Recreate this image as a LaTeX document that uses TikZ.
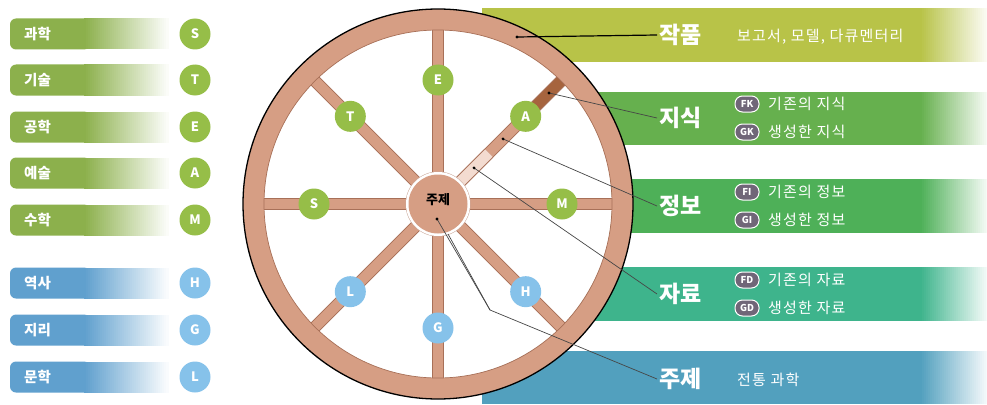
\documentclass[tikz,border=0pt]{standalone}
\usepackage{fontspec}
\setmainfont{Noto Sans CJK KR}
\usetikzlibrary{calc}

\definecolor{wheeltan}{RGB}{214,158,132}
\definecolor{wheeledge}{RGB}{168,112,88}
\definecolor{spokelight}{RGB}{243,219,208}
\definecolor{spokedark}{RGB}{166,100,62}
\definecolor{dotgreen}{RGB}{150,190,72}
\definecolor{dotblue}{RGB}{134,194,234}
\definecolor{pillgreen}{RGB}{140,176,76}
\definecolor{pillblue}{RGB}{96,160,206}
\definecolor{barwork}{RGB}{184,195,72}
\definecolor{barknow}{RGB}{102,176,78}
\definecolor{barinfo}{RGB}{78,176,88}
\definecolor{bardata}{RGB}{62,180,140}
\definecolor{bartopic}{RGB}{82,160,190}
\definecolor{badgegray}{RGB}{112,102,120}
\definecolor{leader}{RGB}{70,70,70}
\definecolor{pin}{RGB}{120,55,45}

\tikzset{
  letterdot/.style={circle, minimum size=31pt, inner sep=0pt, text=white, font=\bfseries\fontsize{13}{13}\selectfont},
  pilltext/.style={anchor=west, inner sep=0pt, text=white, font=\bfseries\fontsize{14.5}{15}\selectfont},
  spoke/.style={draw=wheeledge, line width=0.8pt, double=wheeltan, double distance=10.5pt},
  bigword/.style={anchor=west, inner sep=2pt, text=white, font=\bfseries\fontsize{23}{23}\selectfont},
  subword/.style={anchor=west, inner sep=0pt, text=white, font=\fontsize{15}{15}\selectfont\addfontfeatures{LetterSpace=8}},
  badge/.style={fill=badgegray, draw=white, line width=1pt, rounded corners=7.5pt, minimum width=24pt, minimum height=16pt, inner sep=0pt, text=white, font=\bfseries\fontsize{9.5}{9.5}\selectfont},
  leaderline/.style={draw=leader, line width=0.7pt},
}

\begin{document}
\begin{tikzpicture}[x=1pt,y=1pt,yscale=-1,xscale=1]
\useasboundingbox (0,0) rectangle (987,404);

%Left legend pills with letter keys
\foreach \y/\word/\ltr/\kind in {34/과학/S/green, 80/기술/T/green, 127/공학/E/green, 173/예술/A/green, 220/수학/M/green, 283/역사/H/blue, 330/지리/G/blue, 377/문학/L/blue}
{
  \fill[pill\kind, rounded corners=6pt] (10,\y-15.5) rectangle (90,\y+15.5);
  % fade to white in thin strips
  \foreach \k in {0,...,41}
  {
    \pgfmathsetmacro\t{100-2.35*\k}
    \fill[pill\kind!\t!white] (84+2*\k,\y-15.5) rectangle (86.6+2*\k,\y+15.5);
  }
  \node[pilltext] (pill-\ltr) at (24,\y) {\word};
  \node[letterdot, fill=dot\kind] (key-\ltr) at (195,\y) {\ltr};
}

%Right bars (behind the wheel)
\foreach \top/\bot/\col in {8/62/barwork, 92/145/barknow, 179/233/barinfo, 267/321/bardata, 351/404/bartopic}
{
  \fill[\col] (482,\top) rectangle (922,\bot);
  \foreach \k in {0,...,33}
  {
    \pgfmathsetmacro\t{100-2.85*\k}
    \fill[\col!\t!white] (920+2*\k,\top) rectangle (922.6+2*\k,\bot);
  }
}

%Wheel
\coordinate (c) at (438,204);
\fill[white] (c) circle (174);
\foreach \ang in {0,45,...,315}
  \draw[spoke] ($(c)+(\ang:26)$) -- ($(c)+(\ang:176)$);
% spoke towards A in three tones
\draw[spoke, double=spokelight] ($(c)+(-45:26)$) -- ($(c)+(-45:72)$);
\draw[spoke, double=spokedark] ($(c)+(-45:138)$) -- ($(c)+(-45:176)$);
% rim
\fill[wheeltan, even odd rule] (c) circle (195) (c) circle (174);
\draw[wheeledge, line width=0.7pt] (c) circle (174);
\draw[black, line width=1.3pt] (c) circle (195);
% hub
\fill[wheeledge!60] (c) circle (32.5);
\fill[white] (c) circle (32);
\fill[wheeltan] (c) circle (29.5);
\node[inner sep=0pt, font=\bfseries\fontsize{13}{13}\selectfont] (hub) at ($(c)+(0,-4)$) {주제};

\foreach \ang/\ltr/\kind in {-90/E/green, -45/A/green, 0/M/green, 45/H/blue, 90/G/blue, 135/L/blue, 180/S/green, -135/T/green}
  \node[letterdot, fill=dot\kind] (spk-\ltr) at ($(c)+(\ang:124)$) {\ltr};

%Labels on the bars
\node[bigword] (lbl-work)  at (657,35)  {작품};
\node[bigword] (lbl-know)  at (657,118) {지식};
\node[bigword] (lbl-info)  at (657,206) {정보};
\node[bigword] (lbl-data)  at (657,294) {자료};
\node[bigword] (lbl-topic) at (657,379) {주제};

\node[subword] (sub-work)  at (737,37)  {보고서, 모델, 다큐멘터리};
\node[subword] (sub-topic) at (737,380) {전통 과학};

\foreach \y/\tag/\txt [count=\i] in {104/FK/기존의 지식, 132/GK/생성한 지식, 192/FI/기존의 정보, 220/GI/생성한 정보, 280/FD/기존의 자료, 308/GD/생성한 자료}
{
  \node[badge] (badge-\i) at (747,\y) {\tag};
  \node[subword] (row-\i) at (768,\y) {\txt};
}

%Leader lines from the wheel to the labels
\coordinate (pin-work)  at (517,37);
\coordinate (pin-know)  at ($(c)+(-45:157)$);
\coordinate (pin-info)  at ($(c)+(-45:92)$);
\coordinate (pin-data)  at ($(c)+(-45:51)$);
\coordinate (pin-topic) at (437,219);
\coordinate (pin-rim)   at (448,234);
\coordinate (bend)      at (490,310);

\draw[black, line width=1.2pt] (pin-work) -- (lbl-work.west);
\draw[leaderline] (pin-know) -- (lbl-know.west);
\draw[leaderline] (pin-info) -- (lbl-info.west);
\draw[leaderline] (pin-data) -- (lbl-data.west);
\draw[leaderline] (pin-topic) -- (bend) -- (lbl-topic.west);
\draw[leaderline] (pin-rim) -- (bend);

\foreach \p in {work,know,info,data,topic}
  \fill[pin] (pin-\p) circle (1.6);

\end{tikzpicture}
\end{document}
